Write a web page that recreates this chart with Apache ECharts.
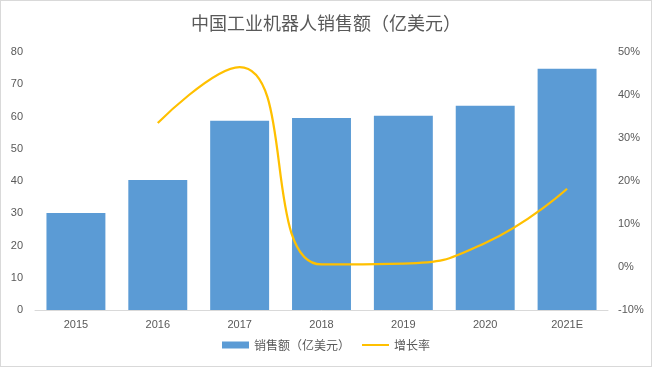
<!DOCTYPE html>
<html><head><meta charset="utf-8">
<script src="https://cdn.jsdelivr.net/npm/echarts@6/dist/echarts.min.js"></script>
<style>html,body{margin:0;padding:0;background:#fff}#c{width:650px;height:365px;border:1px solid #d9d9d9}</style>
</head><body><div id="c"></div>
<script>
const categories = ['2015','2016','2017','2018','2019','2020','2021E'];
const sales = [30.1, 40.3, 58.7, 59.5, 60.2, 63.3, 74.8];
const growth = [null, 33.5, 46.5, 0.6, 0.8, 5.6, 18.2];
const leftTicks = {min:0, max:80, interval:10};
const rightTicks = {min:-10, max:50, interval:10};
const FONT = '"Liberation Sans", "Noto Sans CJK SC", sans-serif';
const chart = echarts.init(document.getElementById('c'));
chart.setOption({
  animation:false,
  textStyle:{fontFamily:FONT},
  title:{text:'中国工业机器人销售额（亿美元）', left:'center', top:8,
    textStyle:{fontFamily:'"Noto Sans CJK SC", sans-serif', fontSize:18, fontWeight:'normal', color:'#595959'}},
  legend:{bottom:10, left:'center', itemGap:12, itemWidth:27, itemHeight:7,
    textStyle:{fontFamily:'"Noto Sans CJK SC", sans-serif', fontSize:12, color:'#595959'},
    data:[{name:'销售额（亿美元）', icon:'rect'}, {name:'增长率', icon:'path://M0,0 H27 V2 H0 Z'}]},
  grid:{left:34, right:43, top:51, bottom:56},
  xAxis:{type:'category', data:categories,
    axisLine:{lineStyle:{color:'#d9d9d9'}}, axisTick:{show:false},
    axisLabel:{color:'#595959', fontSize:11, margin:9, fontFamily:FONT}},
  yAxis:[
    {type:'value', min:leftTicks.min, max:leftTicks.max, interval:leftTicks.interval,
     splitLine:{show:false}, axisLine:{show:false}, axisTick:{show:false},
     axisLabel:{color:'#595959', fontSize:11, margin:12, fontFamily:FONT}},
    {type:'value', min:rightTicks.min, max:rightTicks.max, interval:rightTicks.interval,
     splitLine:{show:false}, axisLine:{show:false}, axisTick:{show:false},
     axisLabel:{color:'#595959', fontSize:11, margin:10, formatter:'{value}%', fontFamily:FONT}}
  ],
  series:[
    {name:'销售额（亿美元）', type:'bar', data:sales, barCategoryGap:'28%',
     itemStyle:{color:'#5B9BD5'}},
    {name:'增长率', type:'line', yAxisIndex:1, data:growth, smooth:0.5, symbol:'none',
     connectNulls:false, lineStyle:{color:'#FFC000', width:2.25}, itemStyle:{color:'#FFC000'}}
  ]
});
</script></body></html>
